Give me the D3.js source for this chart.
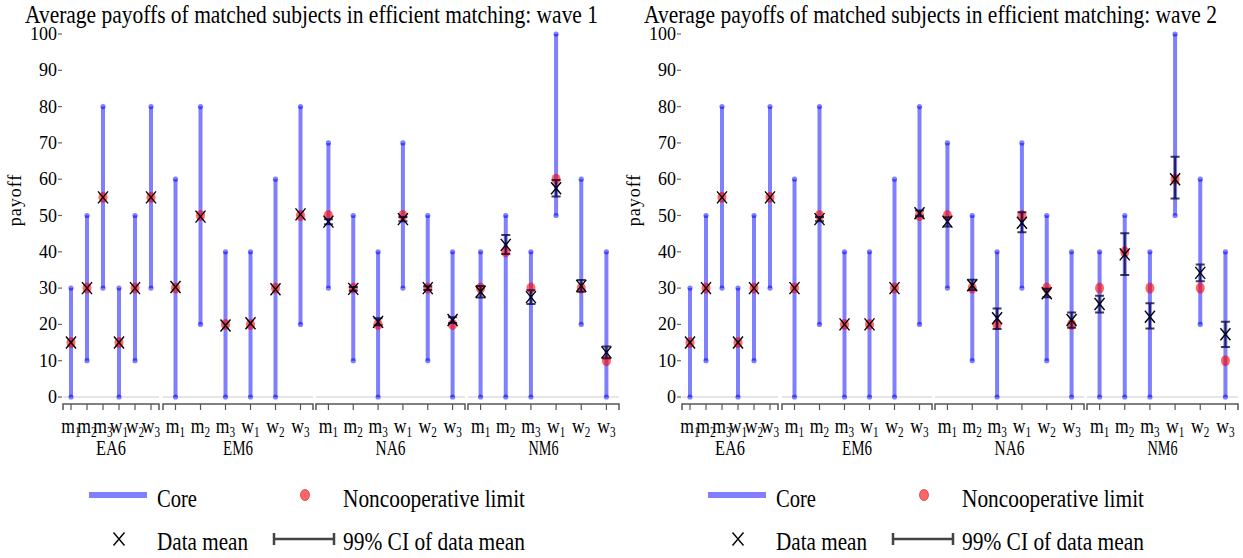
<!DOCTYPE html>
<html>
<head>
<meta charset="utf-8">
<script src="https://cdn.jsdelivr.net/npm/d3@7"></script>
</head>
<body style="margin:0">
<svg id="chart" width="1243" height="558"></svg>
<script>
// Matching treatments and the six roles within each market
const markets = ["EA6", "EM6", "NA6", "NM6"];
const roles = ["m1", "m2", "m3", "w1", "w2", "w3"];

// Core payoff ranges (low / high), per market, in role order
const coreLow = {
  EA6: [0, 10, 30, 0, 10, 30],
  EM6: [0, 20, 0, 0, 0, 20],
  NA6: [30, 10, 0, 30, 10, 0],
  NM6: [0, 0, 0, 50, 20, 0]
};
const coreHigh = {
  EA6: [30, 50, 80, 30, 50, 80],
  EM6: [60, 80, 40, 40, 60, 80],
  NA6: [70, 50, 40, 70, 50, 40],
  NM6: [40, 50, 40, 100, 60, 40]
};

// Noncooperative limit payoffs
const noncoop = {
  EA6: [15, 30, 55, 15, 30, 55],
  EM6: [30, 50, 20, 20, 30, 50],
  NA6: [50, 30, 20, 50, 30, 20],
  NM6: [30, 40, 30, 60, 30, 10]
};

// Wave 1: data means and 99% confidence bounds
const wave1Mean = {
  EA6: [15, 30, 55, 15, 30, 55],
  EM6: [30.3, 49.7, 19.7, 20.3, 29.7, 50.3],
  NA6: [48.3, 29.8, 20.7, 49, 30, 21.2],
  NM6: [29, 41.9, 27.5, 57.5, 30.6, 12.3]
};
const wave1Lo = {
  EA6: [15, 30, 55, 15, 30, 55],
  EM6: [30.1, 49.5, 19.5, 20.1, 29.5, 50.1],
  NA6: [47.6, 29.3, 19.8, 48.4, 29.5, 20.4],
  NM6: [27.4, 39.4, 25.6, 55.2, 29.0, 10.7]
};
const wave1Hi = {
  EA6: [15, 30, 55, 15, 30, 55],
  EM6: [30.5, 49.9, 19.9, 20.5, 29.9, 50.5],
  NA6: [49.0, 30.3, 21.7, 49.6, 30.5, 22.0],
  NM6: [30.6, 44.6, 29.4, 59.8, 32.2, 13.9]
};

// Wave 2: data means and 99% confidence bounds
const wave2Mean = {
  EA6: [15, 30, 55, 15, 30, 55],
  EM6: [30, 49, 20, 20, 30, 50.6],
  NA6: [48.3, 30.8, 21.7, 48, 28.6, 21.2],
  NM6: [25.6, 39.3, 22.1, 60, 34.2, 17.3]
};
const wave2Lo = {
  EA6: [15, 30, 55, 15, 30, 55],
  EM6: [29.8, 48.4, 19.8, 19.8, 29.8, 49.8],
  NA6: [47.0, 29.5, 18.7, 45.4, 27.5, 19.1],
  NM6: [23.3, 33.6, 18.9, 54.7, 31.9, 13.8]
};
const wave2Hi = {
  EA6: [15, 30, 55, 15, 30, 55],
  EM6: [30.2, 49.6, 20.2, 20.2, 30.2, 51.4],
  NA6: [49.5, 32.3, 24.4, 50.9, 29.8, 23.3],
  NM6: [27.9, 45.1, 25.8, 66.2, 36.5, 20.7]
};

const yTicks = [0, 10, 20, 30, 40, 50, 60, 70, 80, 90, 100];
const legendLabels = ["Core", "Noncooperative limit", "Data mean", "99% CI of data mean"];

const waves = [
  { title: "Average payoffs of matched subjects in efficient matching: wave 1",
    mean: wave1Mean, lo: wave1Lo, hi: wave1Hi },
  { title: "Average payoffs of matched subjects in efficient matching: wave 2",
    mean: wave2Mean, lo: wave2Lo, hi: wave2Hi }
];

const svg = d3.select("#chart");

const BLUE = "rgba(0,0,255,0.5)";
const RED = "rgba(255,0,0,0.6)";

// facet pixel extents within one chart (EA6 is narrower)
const facetRanges = [[63, 159], [163, 313], [316, 465], [468, 619]];

const y = d3.scaleLinear().domain([0, 100]).range([397, 34]);

// labels use the browser's default (roman) face
function label(g, str, x, yy, size, anchor) {
  return g.append("text")
    .attr("font-size", size)
    .attr("x", x).attr("y", yy)
    .attr("text-anchor", anchor || "start")
    .text(str);
}

function drawX(g, cx, cy, w, h, sw) {
  g.append("path")
    .attr("d", `M${cx - w / 2},${cy - h / 2}L${cx + w / 2},${cy + h / 2}M${cx - w / 2},${cy + h / 2}L${cx + w / 2},${cy - h / 2}`)
    .attr("stroke", "#000").attr("stroke-width", sw).attr("fill", "none");
}

waves.forEach((wave, wi) => {
  const ox = wi * 619;
  const g = svg.append("g").attr("transform", `translate(${ox},0)`);

  // title
  label(g, wave.title, 25, 23, 26)
    .attr("textLength", 573).attr("lengthAdjust", "spacingAndGlyphs");

  // y axis ticks and labels
  const yAxis = g.append("g");
  yTicks.forEach(t => {
    yAxis.append("line")
      .attr("x1", 58).attr("x2", 62)
      .attr("y1", y(t)).attr("y2", y(t))
      .attr("stroke", "#666").attr("stroke-width", 1.2);
    label(yAxis, String(t), 57, y(t) + 6, 18, "end");
  });

  // y title
  label(g, "payoff", 0, 0, 18, "middle")
    .attr("transform", `translate(21,200) rotate(-90)`)
    .attr("letter-spacing", 1);

  markets.forEach((mk, mi) => {
    const [x0, x1] = facetRanges[mi];
    const x = d3.scaleBand().domain(roles).range([x0, x1]).padding(0);
    const cx = r => x(r) + x.bandwidth() / 2;
    const fg = g.append("g");

    // light baseline at zero
    fg.append("line")
      .attr("x1", x0).attr("x2", x1)
      .attr("y1", y(0)).attr("y2", y(0))
      .attr("stroke", "#e6e6e6").attr("stroke-width", 2);

    // x axis line with end brackets and ticks
    fg.append("path")
      .attr("d", `M${x0},410V404H${x1}V410`)
      .attr("stroke", "#555").attr("stroke-width", 1.5).attr("fill", "none");
    roles.forEach(r => {
      fg.append("line")
        .attr("x1", cx(r)).attr("x2", cx(r))
        .attr("y1", 404).attr("y2", 410)
        .attr("stroke", "#555").attr("stroke-width", 1.2);
    });

    // tick labels with subscripts
    roles.forEach(r => {
      const t = label(fg, "", 0, 0, 22, "middle")
        .attr("transform", `translate(${cx(r)},433) scale(0.8,1)`);
      t.append("tspan").text(r[0]);
      t.append("tspan").attr("font-size", 14).attr("dy", 4).text(r[1]);
    });

    // market label
    label(fg, mk, (x0 + x1) / 2, 455, 21, "middle")
      .attr("textLength", 30).attr("lengthAdjust", "spacingAndGlyphs");

    // core ranges
    roles.forEach((r, i) => {
      const lo = coreLow[mk][i], hi = coreHigh[mk][i];
      fg.append("line")
        .attr("x1", cx(r)).attr("x2", cx(r))
        .attr("y1", y(lo)).attr("y2", y(hi))
        .attr("stroke", BLUE).attr("stroke-width", 4);
      [lo, hi].forEach(v => {
        fg.append("circle")
          .attr("cx", cx(r)).attr("cy", y(v)).attr("r", 2.6)
          .attr("fill", BLUE);
      });
    });

    // noncooperative limit
    roles.forEach((r, i) => {
      fg.append("ellipse")
        .attr("cx", cx(r)).attr("cy", y(noncoop[mk][i]))
        .attr("rx", 4.5).attr("ry", 5.5)
        .attr("fill", RED);
    });

    // data means
    roles.forEach((r, i) => {
      drawX(fg, cx(r), y(wave.mean[mk][i]), 10, 12, 1.4);
    });

    // 99% confidence intervals
    roles.forEach((r, i) => {
      const lo = wave.lo[mk][i], hi = wave.hi[mk][i];
      if (hi - lo < 0.5) return;
      const c = cx(r);
      fg.append("path")
        .attr("d", `M${c - 4.5},${y(hi)}H${c + 4.5}M${c},${y(hi)}V${y(lo)}M${c - 4.5},${y(lo)}H${c + 4.5}`)
        .attr("stroke", "rgba(0,0,40,0.75)").attr("stroke-width", 2).attr("fill", "none");
    });
  });

  // legend
  const lg = g.append("g");
  lg.append("line")
    .attr("x1", 89).attr("x2", 147).attr("y1", 495).attr("y2", 495)
    .attr("stroke", BLUE).attr("stroke-width", 6);
  label(lg, legendLabels[0], 157, 507, 25)
    .attr("textLength", 40).attr("lengthAdjust", "spacingAndGlyphs");

  lg.append("ellipse").attr("cx", 305).attr("cy", 495).attr("rx", 4.5).attr("ry", 5.5)
    .attr("fill", RED).attr("stroke", "rgba(220,40,40,0.7)").attr("stroke-width", 1);
  label(lg, legendLabels[1], 343, 507, 25)
    .attr("textLength", 182).attr("lengthAdjust", "spacingAndGlyphs");

  drawX(lg, 119, 539, 11, 13, 1.4);
  label(lg, legendLabels[2], 157, 550, 25)
    .attr("textLength", 91).attr("lengthAdjust", "spacingAndGlyphs");

  lg.append("path")
    .attr("d", "M274,533V545M274,539H334M334,533V545")
    .attr("stroke", "#444").attr("stroke-width", 2.5).attr("fill", "none");
  label(lg, legendLabels[3], 343, 550, 25)
    .attr("textLength", 182).attr("lengthAdjust", "spacingAndGlyphs");
});
</script>
</body>
</html>
